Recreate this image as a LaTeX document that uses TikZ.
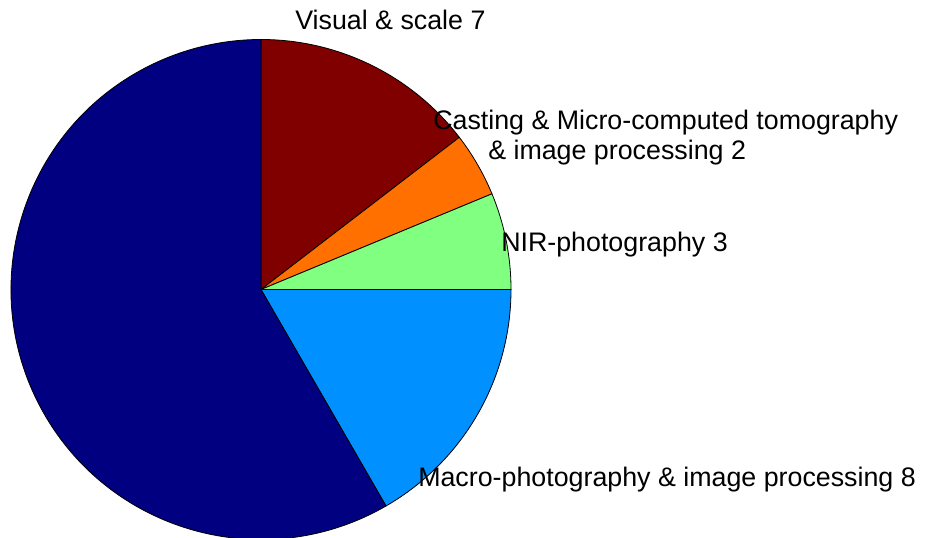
\documentclass[tikz,border=0pt]{standalone}
\usepackage{fontspec}
\setmainfont{Liberation Sans}
\definecolor{jetnavy}{RGB}{0,0,128}
\definecolor{jetblue}{RGB}{0,144,255}
\definecolor{jetgreen}{RGB}{128,255,128}
\definecolor{jetorange}{RGB}{255,112,0}
\definecolor{jetred}{RGB}{128,0,0}
\tikzset{
  slice/.style={draw=black, line width=0.6pt, line join=round},
  lbl/.style={anchor=base west, inner sep=0pt, font=\fontsize{20.1pt}{23pt}\selectfont}
}
\begin{document}
\begin{tikzpicture}[x=0.75pt, y=0.75pt]
  \useasboundingbox (0,0) rectangle (928,538);
  \coordinate (c) at (261,248.5);
  % pie slices, clockwise from the top (counts 7, 2, 3, 8, 28 of 48)
  \filldraw[slice, fill=jetred]    (c) -- ++(90:187.5pt)   arc[start angle=90,   end angle=37.5, radius=187.5pt] -- cycle;
  \filldraw[slice, fill=jetorange] (c) -- ++(37.5:187.5pt) arc[start angle=37.5, end angle=22.5, radius=187.5pt] -- cycle;
  \filldraw[slice, fill=jetgreen]  (c) -- ++(22.5:187.5pt) arc[start angle=22.5, end angle=0,    radius=187.5pt] -- cycle;
  \filldraw[slice, fill=jetblue]   (c) -- ++(0:187.5pt)    arc[start angle=0,    end angle=-60,  radius=187.5pt] -- cycle;
  \filldraw[slice, fill=jetnavy]   (c) -- ++(-60:187.5pt)  arc[start angle=-60,  end angle=-270, radius=187.5pt] -- cycle;
  % slice labels
  \node[lbl] (visual) at (295,508) {Visual \& scale 7};
  \node[lbl] (casting) at (433,408) {Casting \& Micro-computed tomography};
  \node[lbl] (casting2) at (488,378) {\& image processing 2};
  \node[lbl] (nir) at (501,286) {NIR-photography 3};
  \node[lbl] (macro) at (418,51) {Macro-photography \& image processing 8};
\end{tikzpicture}
\end{document}
